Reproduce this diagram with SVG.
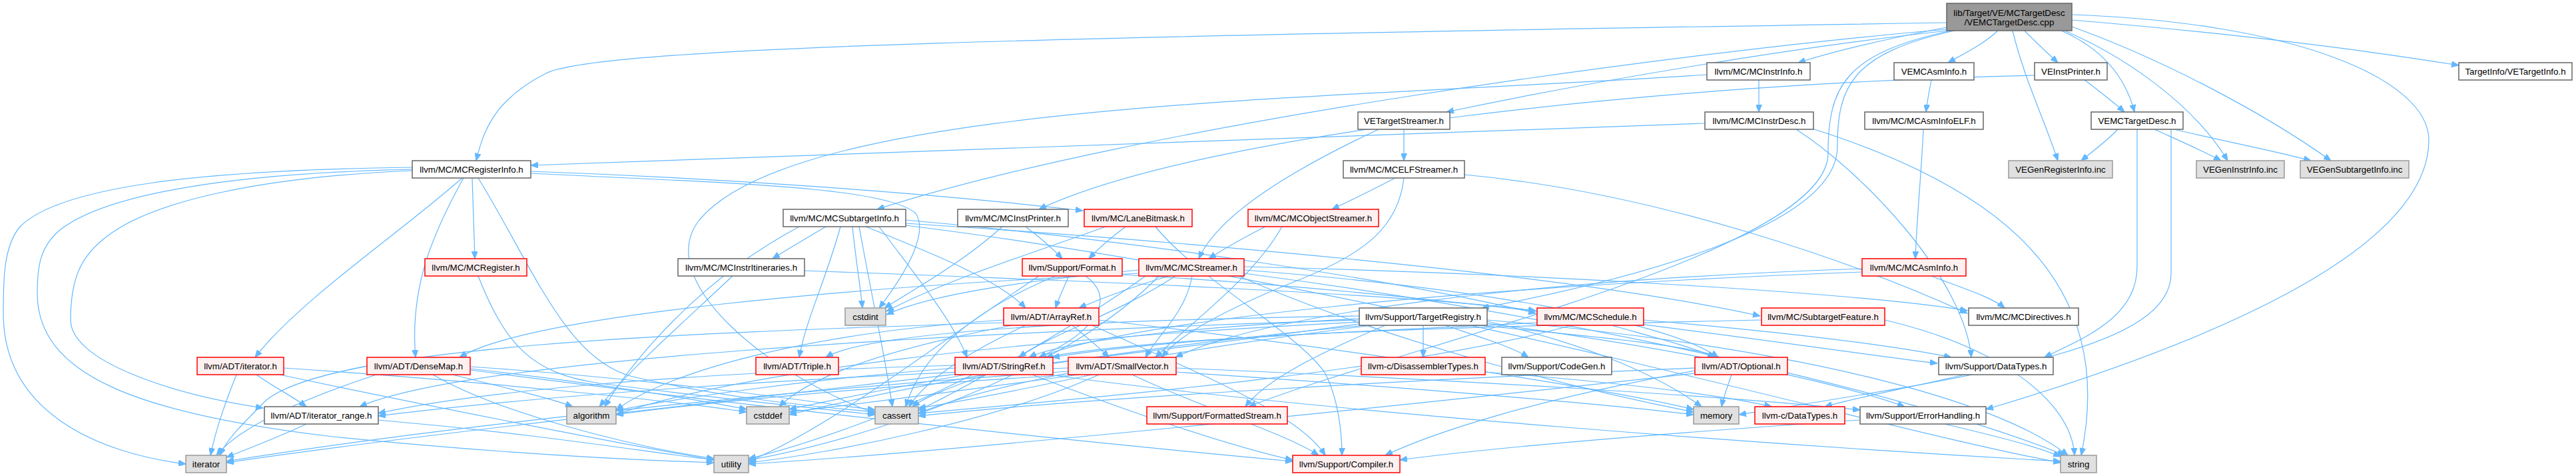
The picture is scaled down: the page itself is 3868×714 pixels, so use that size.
<svg xmlns="http://www.w3.org/2000/svg" width="3868" height="714" viewBox="0 0 3868 714">
<style>
rect{stroke-width:1.5}
.w{fill:#ffffff;stroke:#666666}
.r{fill:#fff0f0;stroke:#ff0000}
.g{fill:#e0e0e0;stroke:#999999}
.t{fill:#999999;stroke:#666666}
text{font-family:"Liberation Sans",Arial,sans-serif;font-size:13.33px;fill:#000;text-anchor:middle}
#connectors path{fill:none;stroke:#63b8ff;stroke-width:1.2;marker-end:url(#a)}
</style>
<defs>
<marker id="a" markerWidth="12" markerHeight="9" refX="11" refY="4.5" orient="auto" markerUnits="userSpaceOnUse">
<path d="M0,0 L11,4.5 L0,9 z" fill="#63b8ff" stroke="#63b8ff" stroke-width="1"/>
</marker>
</defs>
<rect x="0" y="0" width="3868" height="714" fill="#ffffff"/>
<g id="connectors">
<path d="M 2923 41 C 2850 55 2760 75 2700 94"/>
<path d="M 3000 46 C 2980 65 2950 80 2925 94"/>
<path d="M 3040 46 C 3055 62 3075 80 3090 94"/>
<path d="M 3022 46 C 3040 120 3070 180 3090 241"/>
<path d="M 3095 46 C 3150 70 3190 110 3205 168"/>
<path d="M 3100 46 C 3180 80 3290 150 3345 241"/>
<path d="M 3111 40 C 3250 90 3400 170 3500 241"/>
<path d="M 3111 30 C 3350 50 3550 75 3692 98"/>
<path d="M 3111 22 C 3450 34 3647 120 3647 210 C 3647 380 3300 520 2982 614"/>
<path d="M 2923 34 C 1600 55 900 70 820 110 S 725 200 715 241"/>
<path d="M 2923 44 C 2500 80 1700 190 1317 314"/>
<path d="M 2925 46 C 2700 70 2400 120 2172 168"/>
<path d="M 2935 46 C 2780 80 2759 130 2759 220 C 2759 340 2450 420 2225 462"/>
<path d="M 2930 46 C 2770 80 2745 130 2745 230 C 2745 380 2100 520 1875 610"/>
<path d="M 3180 194 C 3165 210 3145 225 3125 241"/>
<path d="M 3235 194 C 3270 210 3305 225 3335 241"/>
<path d="M 3265 194 C 3330 210 3410 225 3470 241"/>
<path d="M 3209 194 L 3209 400 C 3209 480 3120 510 3070 536"/>
<path d="M 3260 194 L 3260 410 C 3260 520 3000 560 2611 622"/>
<path d="M 3130 120 C 3150 135 3170 150 3190 168"/>
<path d="M 3055 113 C 2500 125 1800 200 1560 314"/>
<path d="M 2900 120 C 2897 135 2894 150 2892 168"/>
<path d="M 2108 194 L 2108 241"/>
<path d="M 2070 194 C 1950 250 1830 320 1800 388"/>
<path d="M 2641 120 L 2641 168"/>
<path d="M 2563 112 C 2000 150 1200 150 1050 330 C 980 420 1150 560 1314 620"/>
<path d="M 2560 185 C 2000 205 1400 228 797 248"/>
<path d="M 2697 194 C 2800 260 2950 420 2960 536"/>
<path d="M 2718 192 C 3000 280 3180 420 3125 683"/>
<path d="M 2888 194 C 2885 260 2878 330 2876 388"/>
<path d="M 694 267 C 600 350 450 450 383 536"/>
<path d="M 696 267 C 650 350 615 430 624 536"/>
<path d="M 709 267 L 713 388"/>
<path d="M 718 267 C 800 400 850 540 950 565 C 1100 600 1250 612 1314 618"/>
<path d="M 619 251 C 300 255 90 280 30 340 C 5 370 5 420 5 470 C 5 620 150 680 279 696"/>
<path d="M 619 254 C 350 260 160 290 90 345 C 60 370 56 400 56 440 C 56 560 200 620 500 655 C 750 680 950 690 1072 694"/>
<path d="M 619 256 C 400 265 230 300 160 355 C 120 385 106 420 106 480 C 106 540 250 590 395 612"/>
<path d="M 797 257 C 1100 268 1400 290 1626 316"/>
<path d="M 797 260 C 1100 275 1330 280 1375 320 C 1395 350 1360 410 1320 462"/>
<path d="M 2095 267 C 2060 285 2030 300 2000 314"/>
<path d="M 2108 267 C 2100 340 2050 380 1950 420 C 1850 460 1770 500 1745 536"/>
<path d="M 2199 262 C 2500 290 2800 400 2954 470"/>
<path d="M 1240 340 C 1215 355 1185 372 1160 388"/>
<path d="M 1300 340 C 1400 380 1500 420 1540 462"/>
<path d="M 1320 340 C 1380 420 1430 480 1452 536"/>
<path d="M 1262 340 C 1240 420 1210 480 1200 536"/>
<path d="M 1360 330 C 1700 360 2100 420 2306 470"/>
<path d="M 1360 335 C 1900 370 2400 420 2643 474"/>
<path d="M 1200 340 C 1050 420 950 540 908 610"/>
<path d="M 1290 340 C 1310 450 1330 540 1340 610"/>
<path d="M 1280 340 C 1285 390 1292 430 1295 462"/>
<path d="M 1360 338 C 2100 430 2800 640 3094 694"/>
<path d="M 1540 340 C 1560 355 1580 372 1595 388"/>
<path d="M 1505 340 C 1450 390 1380 430 1328 462"/>
<path d="M 1690 340 C 1670 355 1650 372 1635 388"/>
<path d="M 1660 340 C 1550 380 1420 420 1331 467"/>
<path d="M 1735 340 C 1800 420 1950 500 1990 560 C 2010 600 2015 650 2015 683"/>
<path d="M 1900 340 C 1870 355 1840 372 1815 388"/>
<path d="M 1925 340 C 1880 420 1780 490 1735 536"/>
<path d="M 718 414 C 760 520 800 560 900 575 C 1100 600 1250 615 1314 622"/>
<path d="M 1208 406 C 1600 420 2100 440 2306 466"/>
<path d="M 1100 414 C 1030 480 950 550 900 610"/>
<path d="M 1605 414 C 1598 430 1590 446 1585 462"/>
<path d="M 1630 414 C 1680 450 1640 500 1560 536"/>
<path d="M 1685 412 C 2200 440 2700 520 2909 545"/>
<path d="M 1585 414 C 1450 470 1380 540 1360 610"/>
<path d="M 1560 414 C 1400 520 1250 640 1124 692"/>
<path d="M 1755 414 C 1700 430 1660 445 1620 462"/>
<path d="M 1710 410 C 1300 430 800 470 690 536"/>
<path d="M 1868 405 C 2200 430 2500 480 2580 536"/>
<path d="M 1790 414 C 1780 470 1740 500 1720 536"/>
<path d="M 1765 414 C 1680 470 1580 500 1530 536"/>
<path d="M 1868 400 C 2300 410 2800 440 2954 466"/>
<path d="M 1720 414 C 1600 500 1450 580 1379 616"/>
<path d="M 1710 405 C 1550 420 1400 440 1331 472"/>
<path d="M 1860 414 C 2100 520 2400 590 2543 618"/>
<path d="M 1868 410 C 2400 480 2900 600 3100 683"/>
<path d="M 1740 414 C 1600 560 1300 660 1124 690"/>
<path d="M 2796 403 C 2300 420 1900 470 1765 536"/>
<path d="M 2796 408 C 2200 430 1700 480 1560 536"/>
<path d="M 2900 414 C 2940 430 2990 445 3010 462"/>
<path d="M 1610 488 C 1630 505 1650 520 1665 536"/>
<path d="M 1640 488 C 1800 560 1950 620 1990 683"/>
<path d="M 1507 480 C 1200 500 1000 560 925 615"/>
<path d="M 1540 488 C 1450 530 1390 570 1365 610"/>
<path d="M 1520 488 C 1350 520 1220 560 1170 610"/>
<path d="M 1507 484 C 1000 500 500 520 400 600 C 360 640 340 660 330 683"/>
<path d="M 1650 480 C 2000 520 2400 580 2543 614"/>
<path d="M 2137 488 L 2137 536"/>
<path d="M 2170 488 C 2220 505 2270 520 2295 536"/>
<path d="M 2220 488 C 2400 505 2550 520 2580 536"/>
<path d="M 2041 478 C 1800 490 1600 510 1545 536"/>
<path d="M 2041 474 C 1600 480 1300 500 1240 536"/>
<path d="M 2041 480 C 1400 500 700 540 540 610"/>
<path d="M 2233 485 C 2500 520 2750 570 2860 610"/>
<path d="M 2080 488 C 1980 530 1900 570 1870 610"/>
<path d="M 2041 483 C 1500 510 1100 560 925 622"/>
<path d="M 2060 488 C 1800 520 1500 570 1379 620"/>
<path d="M 2050 488 C 1700 520 1400 570 1185 622"/>
<path d="M 2041 486 C 1500 560 700 640 340 694"/>
<path d="M 2233 482 C 2400 520 2500 570 2555 610"/>
<path d="M 2233 480 C 2700 520 3000 600 3105 683"/>
<path d="M 2420 488 C 2480 505 2540 520 2575 536"/>
<path d="M 2308 484 C 2000 500 1700 510 1570 536"/>
<path d="M 2468 480 C 2700 500 2850 520 2930 536"/>
<path d="M 2360 488 C 2100 560 1600 600 1379 620"/>
<path d="M 2645 480 C 2200 490 1800 500 1580 536"/>
<path d="M 2830 480 C 3000 520 3110 600 3115 683"/>
<path d="M 385 562 C 410 580 440 595 460 610"/>
<path d="M 355 562 C 340 600 325 640 316 683"/>
<path d="M 426 552 C 700 570 1000 600 1121 618"/>
<path d="M 420 562 C 600 600 900 660 1072 690"/>
<path d="M 706 555 C 1200 620 1700 670 1941 692"/>
<path d="M 680 562 C 750 580 820 595 860 610"/>
<path d="M 706 550 C 1000 570 1200 600 1314 615"/>
<path d="M 706 553 C 900 575 1050 600 1121 614"/>
<path d="M 565 562 C 450 600 360 640 325 683"/>
<path d="M 650 562 C 750 620 950 670 1072 688"/>
<path d="M 1434 548 C 1000 560 700 590 568 620"/>
<path d="M 1550 562 C 1700 620 1850 670 1941 690"/>
<path d="M 1434 552 C 1200 570 1000 600 925 616"/>
<path d="M 1480 562 C 1430 580 1390 595 1370 610"/>
<path d="M 1450 562 C 1350 580 1250 600 1185 614"/>
<path d="M 1575 562 C 2000 620 2700 670 3094 692"/>
<path d="M 1460 562 C 1350 620 1200 670 1124 688"/>
<path d="M 1604 552 C 1200 565 800 595 568 624"/>
<path d="M 1700 562 C 1800 610 1930 650 1980 683"/>
<path d="M 1766 552 C 2200 570 2600 595 2793 615"/>
<path d="M 1610 562 C 1300 580 1050 605 925 622"/>
<path d="M 1640 562 C 1530 585 1430 605 1379 612"/>
<path d="M 1620 562 C 1450 585 1300 605 1185 618"/>
<path d="M 1604 557 C 1100 590 600 650 340 692"/>
<path d="M 1766 558 C 2100 580 2400 605 2543 622"/>
<path d="M 1650 562 C 1500 630 1250 680 1124 694"/>
<path d="M 2230 558 C 2450 575 2600 595 2660 610"/>
<path d="M 2545 556 C 2300 600 2150 650 2080 683"/>
<path d="M 2545 552 C 2100 570 1600 600 1379 624"/>
<path d="M 2600 562 C 2594 580 2588 595 2585 610"/>
<path d="M 2545 560 C 2000 620 1400 680 1124 696"/>
<path d="M 2950 562 C 2850 585 2780 598 2740 610"/>
<path d="M 460 636 C 420 655 380 670 340 686"/>
<path d="M 568 630 C 800 650 950 675 1072 690"/>
<path d="M 2793 630 C 2500 650 2250 670 2102 690"/>
<path d="M 2920 636 C 3000 655 3060 670 3094 685"/>
</g>
<g id="n_top"><rect class="t" x="2923" y="5" width="188" height="41"/><text x="3017" y="23.5">lib/Target/VE/MCTargetDesc</text><text x="3017" y="37.5">/VEMCTargetDesc.cpp</text></g>
<g id="n_MCInstrInfo"><rect class="w" x="2563" y="94" width="155" height="26"/><text x="2640.5" y="112">llvm/MC/MCInstrInfo.h</text></g>
<g id="n_VEMCAsmInfo"><rect class="w" x="2844" y="94" width="120" height="26"/><text x="2904" y="112">VEMCAsmInfo.h</text></g>
<g id="n_VEInstPrinter"><rect class="w" x="3055" y="94" width="109" height="26"/><text x="3109.5" y="112">VEInstPrinter.h</text></g>
<g id="n_VETargetInfo"><rect class="w" x="3692" y="94" width="170" height="26"/><text x="3777" y="112">TargetInfo/VETargetInfo.h</text></g>
<g id="n_VETargetStreamer"><rect class="w" x="2039" y="168" width="138" height="26"/><text x="2108" y="186">VETargetStreamer.h</text></g>
<g id="n_MCInstrDesc"><rect class="w" x="2560" y="168" width="163" height="26"/><text x="2641.5" y="186">llvm/MC/MCInstrDesc.h</text></g>
<g id="n_MCAsmInfoELF"><rect class="w" x="2800" y="168" width="178" height="26"/><text x="2889" y="186">llvm/MC/MCAsmInfoELF.h</text></g>
<g id="n_VEMCTargetDesc_h"><rect class="w" x="3140" y="168" width="138" height="26"/><text x="3209" y="186">VEMCTargetDesc.h</text></g>
<g id="n_MCRegisterInfo"><rect class="w" x="619" y="241" width="178" height="26"/><text x="708" y="259">llvm/MC/MCRegisterInfo.h</text></g>
<g id="n_MCELFStreamer"><rect class="w" x="2017" y="241" width="182" height="26"/><text x="2108" y="259">llvm/MC/MCELFStreamer.h</text></g>
<g id="n_VEGenRegisterInfo"><rect class="g" x="3016" y="241" width="156" height="26"/><text x="3094" y="259">VEGenRegisterInfo.inc</text></g>
<g id="n_VEGenInstrInfo"><rect class="g" x="3298" y="241" width="132" height="26"/><text x="3364" y="259">VEGenInstrInfo.inc</text></g>
<g id="n_VEGenSubtargetInfo"><rect class="g" x="3454" y="241" width="163" height="26"/><text x="3535.5" y="259">VEGenSubtargetInfo.inc</text></g>
<g id="n_MCSubtargetInfo"><rect class="w" x="1176" y="314" width="184" height="26"/><text x="1268" y="332">llvm/MC/MCSubtargetInfo.h</text></g>
<g id="n_MCInstPrinter"><rect class="w" x="1438" y="314" width="166" height="26"/><text x="1521" y="332">llvm/MC/MCInstPrinter.h</text></g>
<g id="n_LaneBitmask"><rect class="r" x="1628" y="314" width="162" height="26"/><text x="1709" y="332">llvm/MC/LaneBitmask.h</text></g>
<g id="n_MCObjectStreamer"><rect class="r" x="1874" y="314" width="196" height="26"/><text x="1972" y="332">llvm/MC/MCObjectStreamer.h</text></g>
<g id="n_MCRegister"><rect class="r" x="638" y="388" width="153" height="26"/><text x="714.5" y="406">llvm/MC/MCRegister.h</text></g>
<g id="n_MCInstrItineraries"><rect class="w" x="1018" y="388" width="190" height="26"/><text x="1113" y="406">llvm/MC/MCInstrItineraries.h</text></g>
<g id="n_Format"><rect class="r" x="1535" y="388" width="150" height="26"/><text x="1610" y="406">llvm/Support/Format.h</text></g>
<g id="n_MCStreamer"><rect class="r" x="1710" y="388" width="158" height="26"/><text x="1789" y="406">llvm/MC/MCStreamer.h</text></g>
<g id="n_MCAsmInfo"><rect class="r" x="2796" y="388" width="156" height="26"/><text x="2874" y="406">llvm/MC/MCAsmInfo.h</text></g>
<g id="n_cstdint"><rect class="g" x="1269" y="462" width="61" height="26"/><text x="1299.5" y="480">cstdint</text></g>
<g id="n_ArrayRef"><rect class="r" x="1507" y="462" width="143" height="26"/><text x="1578.5" y="480">llvm/ADT/ArrayRef.h</text></g>
<g id="n_TargetRegistry"><rect class="w" x="2041" y="462" width="192" height="26"/><text x="2137" y="480">llvm/Support/TargetRegistry.h</text></g>
<g id="n_MCSchedule"><rect class="r" x="2308" y="462" width="160" height="26"/><text x="2388" y="480">llvm/MC/MCSchedule.h</text></g>
<g id="n_SubtargetFeature"><rect class="r" x="2645" y="462" width="185" height="26"/><text x="2737.5" y="480">llvm/MC/SubtargetFeature.h</text></g>
<g id="n_MCDirectives"><rect class="w" x="2956" y="462" width="165" height="26"/><text x="3038.5" y="480">llvm/MC/MCDirectives.h</text></g>
<g id="n_iterator_h"><rect class="r" x="296" y="536" width="130" height="26"/><text x="361" y="554">llvm/ADT/iterator.h</text></g>
<g id="n_DenseMap"><rect class="r" x="551" y="536" width="155" height="26"/><text x="628.5" y="554">llvm/ADT/DenseMap.h</text></g>
<g id="n_Triple"><rect class="r" x="1135" y="536" width="124" height="26"/><text x="1197" y="554">llvm/ADT/Triple.h</text></g>
<g id="n_StringRef"><rect class="r" x="1434" y="536" width="147" height="26"/><text x="1507.5" y="554">llvm/ADT/StringRef.h</text></g>
<g id="n_SmallVector"><rect class="r" x="1604" y="536" width="162" height="26"/><text x="1685" y="554">llvm/ADT/SmallVector.h</text></g>
<g id="n_DisassemblerTypes"><rect class="r" x="2044" y="536" width="186" height="26"/><text x="2137" y="554">llvm-c/DisassemblerTypes.h</text></g>
<g id="n_CodeGen"><rect class="w" x="2255" y="536" width="165" height="26"/><text x="2337.5" y="554">llvm/Support/CodeGen.h</text></g>
<g id="n_Optional"><rect class="r" x="2545" y="536" width="139" height="26"/><text x="2614.5" y="554">llvm/ADT/Optional.h</text></g>
<g id="n_DataTypes"><rect class="w" x="2911" y="536" width="172" height="26"/><text x="2997" y="554">llvm/Support/DataTypes.h</text></g>
<g id="n_iterator_range"><rect class="w" x="397" y="610" width="171" height="26"/><text x="482.5" y="628">llvm/ADT/iterator_range.h</text></g>
<g id="n_algorithm"><rect class="g" x="851" y="610" width="74" height="26"/><text x="888" y="628">algorithm</text></g>
<g id="n_cstddef"><rect class="g" x="1121" y="610" width="64" height="26"/><text x="1153" y="628">cstddef</text></g>
<g id="n_cassert"><rect class="g" x="1314" y="610" width="65" height="26"/><text x="1346.5" y="628">cassert</text></g>
<g id="n_FormattedStream"><rect class="r" x="1722" y="610" width="211" height="26"/><text x="1827.5" y="628">llvm/Support/FormattedStream.h</text></g>
<g id="n_memory"><rect class="g" x="2543" y="610" width="68" height="26"/><text x="2577" y="628">memory</text></g>
<g id="n_c_DataTypes"><rect class="r" x="2635" y="610" width="135" height="26"/><text x="2702.5" y="628">llvm-c/DataTypes.h</text></g>
<g id="n_ErrorHandling"><rect class="w" x="2793" y="610" width="189" height="26"/><text x="2887.5" y="628">llvm/Support/ErrorHandling.h</text></g>
<g id="n_iterator"><rect class="g" x="279" y="683" width="61" height="26"/><text x="309.5" y="701">iterator</text></g>
<g id="n_utility"><rect class="g" x="1072" y="683" width="52" height="26"/><text x="1098" y="701">utility</text></g>
<g id="n_Compiler"><rect class="r" x="1941" y="683" width="161" height="26"/><text x="2021.5" y="701">llvm/Support/Compiler.h</text></g>
<g id="n_string"><rect class="g" x="3094" y="683" width="54" height="26"/><text x="3121" y="701">string</text></g>
</svg>
